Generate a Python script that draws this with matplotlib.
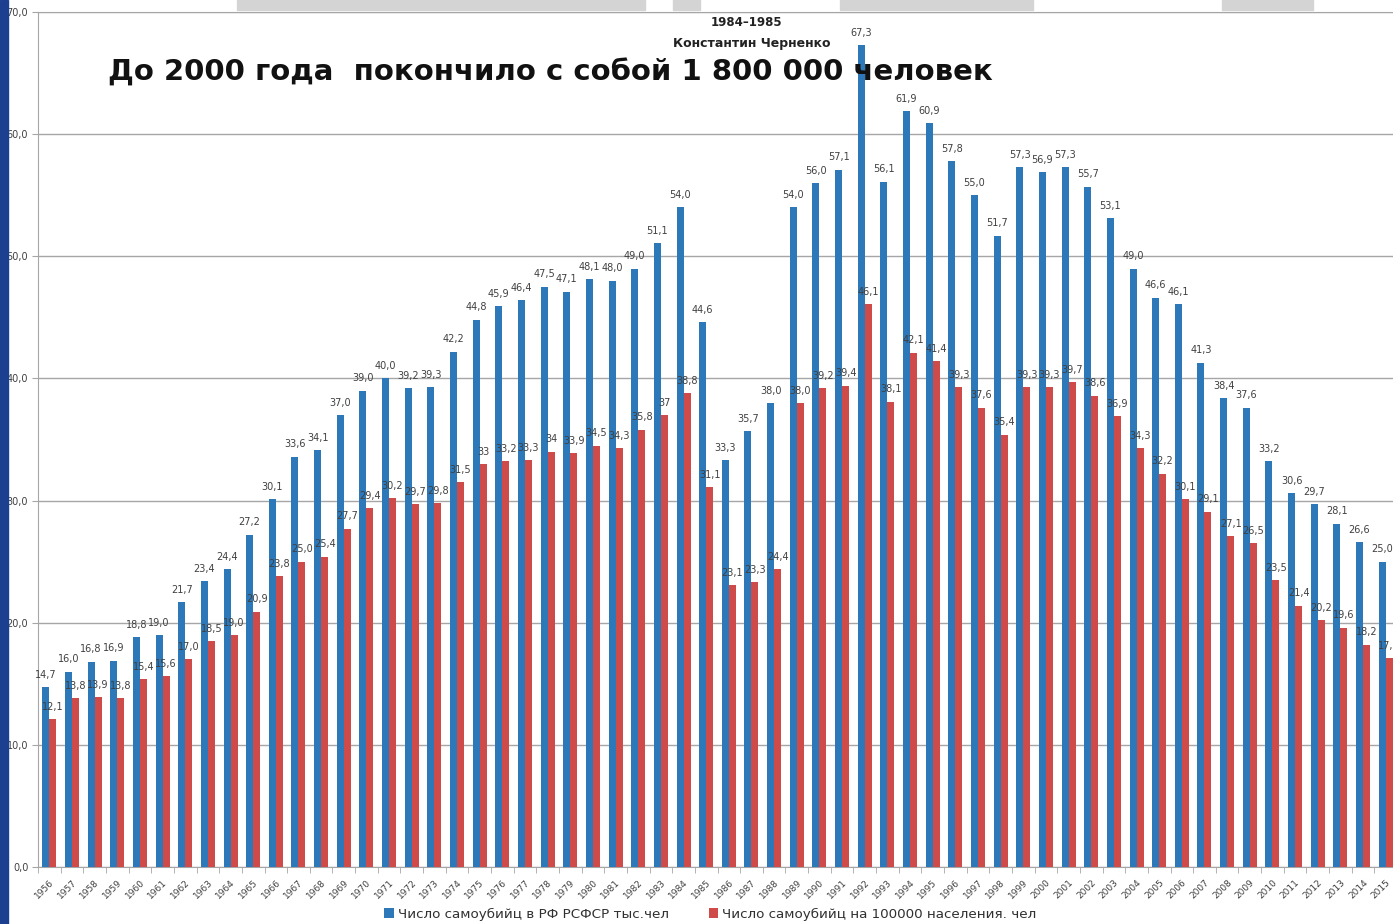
import numpy as np
import matplotlib.pyplot as plt
from matplotlib.patches import Rectangle

# years 1956..2015
years = list(range(1956, 2016))

# Число самоубийц в РФ РСФСР, тыс. чел
suicides_total = [14.7, 16.0, 16.8, 16.9, 18.8, 19.0, 21.7, 23.4, 24.4, 27.2,
                  30.1, 33.6, 34.1, 37.0, 39.0, 40.0, 39.2, 39.3, 42.2, 44.8,
                  45.9, 46.4, 47.5, 47.1, 48.1, 48.0, 49.0, 51.1, 54.0, 44.6,
                  33.3, 35.7, 38.0, 54.0, 56.0, 57.1, 67.3, 56.1, 61.9, 60.9,
                  57.8, 55.0, 51.7, 57.3, 56.9, 57.3, 55.7, 53.1, 49.0, 46.6,
                  46.1, 41.3, 38.4, 37.6, 33.2, 30.6, 29.7, 28.1, 26.6, 25.0]

# Число самоубийц на 100000 населения (ints are labelled without decimals)
suicides_rate = [12.1, 13.8, 13.9, 13.8, 15.4, 15.6, 17.0, 18.5, 19.0, 20.9,
                 23.8, 25.0, 25.4, 27.7, 29.4, 30.2, 29.7, 29.8, 31.5, 33,
                 33.2, 33.3, 34, 33.9, 34.5, 34.3, 35.8, 37, 38.8, 31.1,
                 23.1, 23.3, 24.4, 38.0, 39.2, 39.4, 46.1, 38.1, 42.1, 41.4,
                 39.3, 37.6, 35.4, 39.3, 39.3, 39.7, 38.6, 36.9, 34.3, 32.2,
                 30.1, 29.1, 27.1, 26.5, 23.5, 21.4, 20.2, 19.6, 18.2, 17.1]

series_names = ['Число самоубийц в РФ РСФСР тыс.чел',
                'Число самоубийц на 100000 населения. чел']
y_ticks = [0, 10, 20, 30, 40, 50, 60, 70]

blue = '#2c78b9'
red = '#cf4b49'
grid_c = '#a6a6a6'
lab_c = '#404040'


def fmt(v):
    if isinstance(v, int):
        return str(v)
    return f'{v:.1f}'.replace('.', ',')


W, H = 1393, 924
fig = plt.figure(figsize=(W / 100, H / 100), dpi=100)
fig.patch.set_facecolor('white')

ax = fig.add_axes([38 / W, 57 / H, 1359 / W, 855 / H])
x = np.arange(len(years))
bw = 0.31
b1 = ax.bar(x - bw / 2, suicides_total, bw, color=blue, label=series_names[0], zorder=3)
b2 = ax.bar(x + bw / 2, suicides_rate, bw, color=red, label=series_names[1], zorder=3)

for xi, v in zip(x, suicides_total):
    ax.text(xi - bw / 2, v + 0.6, fmt(v), ha='center', va='bottom', fontsize=7, color=lab_c, zorder=4)
for xi, v in zip(x, suicides_rate):
    ax.text(xi + bw / 2, v + 0.6, fmt(v), ha='center', va='bottom', fontsize=7, color=lab_c, zorder=4)

ax.set_xlim(-0.5, len(years) - 0.5)
ax.set_ylim(0, 70)
ax.set_yticks(y_ticks)
ax.set_yticklabels([fmt(float(t)) for t in y_ticks], fontsize=7, color=lab_c)
ax.yaxis.grid(True, color=grid_c, lw=1, zorder=0)
ax.tick_params(axis='y', length=4, color=grid_c, pad=3)

ax.set_xticks(x)
ax.set_xticklabels([str(y) for y in years], rotation=45, ha='right',
                   rotation_mode='anchor', fontsize=6.5, color=lab_c)
ax.tick_params(axis='x', length=0, pad=8)
ax.set_xticks(np.arange(-0.5, len(years)), minor=True)
ax.tick_params(axis='x', which='minor', length=4, color=grid_c)

for s in ['left', 'bottom', 'top']:
    ax.spines[s].set_color(grid_c)
ax.spines['right'].set_visible(False)

fig.legend(handles=[b1, b2], loc='center', bbox_to_anchor=(0.51, 10 / H), ncol=2,
           frameon=False, fontsize=9.7, handlelength=0.7, handleheight=0.7,
           handletextpad=0.3, columnspacing=3.0, labelcolor='#303030')

# headline texts
fig.text(108 / W, 1 - 73 / H, 'До 2000 года  покончило с собой 1 800 000 человек',
         fontsize=21, weight='bold', va='center', ha='left', color='#111111')
fig.text(746 / W, 1 - 22 / H, '1984–1985', fontsize=8.5, weight='bold',
         ha='center', va='center', color='#222222')
fig.text(752 / W, 1 - 43 / H, 'Константин Черненко', fontsize=9, weight='bold',
         ha='center', va='center', color='#222222')

# cropped photo strips at the top and blue frame at left
for x0, x1, c in [(237, 645, '#d4d4d4'), (673, 700, '#d4d4d4'), (840, 1033, '#d4d4d4'),
                  (1222, 1313, '#d4d4d4')]:
    fig.patches.append(Rectangle((x0 / W, 1 - 10 / H), (x1 - x0) / W, 10 / H,
                                 transform=fig.transFigure, color=c, zorder=5))
fig.patches.append(Rectangle((0, 0), 8 / W, 1, transform=fig.transFigure,
                             color='#1c3f8f', zorder=5))

fig.savefig('out.png', dpi=100)
